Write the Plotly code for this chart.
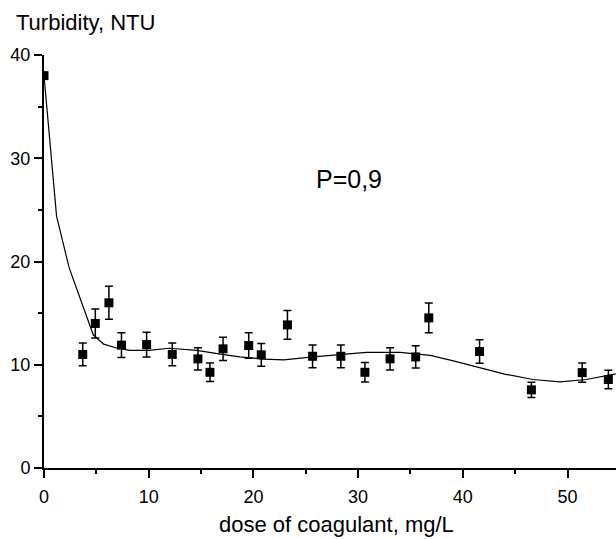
import plotly.graph_objects as go

# Measured turbidity (NTU) vs. coagulant dose (mg/L), with error bars
dose = [0.0, 3.7, 4.9, 6.2, 7.4, 9.8, 12.25, 14.7, 15.85, 17.1, 19.55, 20.75,
        23.25, 25.65, 28.35, 30.65, 33.05, 35.5, 36.75, 41.6, 46.55, 51.4, 53.9]
turbidity = [38.0, 11.0, 14.0, 16.0, 11.9, 11.95, 11.0, 10.57, 9.27, 11.54, 11.86, 10.96,
             13.86, 10.82, 10.82, 9.27, 10.57, 10.76, 14.54, 11.28, 7.57, 9.24, 8.57]
error = [0.3, 1.1, 1.4, 1.6, 1.2, 1.2, 1.1, 1.07, 0.9, 1.13, 1.24, 1.11,
         1.4, 1.1, 1.1, 0.94, 1.07, 1.07, 1.45, 1.13, 0.74, 0.94, 0.89]

# Fitted curve
fit_dose = [0.0, 1.2, 2.4, 4.7, 5.7, 7.0, 8.2, 10.0, 12.0, 14.6, 17.0, 18.7, 21.0,
            22.9, 25.7, 28.3, 30.8, 34.0, 36.9, 39.0, 41.6, 44.0, 46.7, 49.3, 51.8, 54.6]
fit_turbidity = [38.0, 24.4, 19.4, 12.9, 12.0, 11.6, 11.4, 11.4, 11.6, 11.4, 11.0, 10.76, 10.55,
                 10.47, 10.76, 10.99, 11.2, 11.2, 10.9, 10.4, 9.7, 9.1, 8.57, 8.34, 8.57, 9.12]

x_ticks = [0, 10, 20, 30, 40, 50]
y_ticks = [0, 10, 20, 30, 40]

FONT = "Liberation Sans, Arial, sans-serif"

fig = go.Figure()
fig.add_trace(go.Scatter(
    x=fit_dose, y=fit_turbidity, mode="lines",
    line=dict(color="black", width=1.2), hoverinfo="skip", showlegend=False,
))
fig.add_trace(go.Scatter(
    x=dose, y=turbidity, mode="markers",
    marker=dict(symbol="square", size=9, color="black"),
    error_y=dict(type="data", array=error, visible=True, color="black",
                 thickness=1.5, width=4),
    showlegend=False,
))

axis_common = dict(
    showline=True, linecolor="black", linewidth=2,
    ticks="outside", ticklen=8, tickwidth=1.5, tickcolor="black",
    showgrid=False, zeroline=False,
    tickfont=dict(family=FONT, size=18, color="black"),
)
minor_ticks = dict(dtick=5, ticks="outside", ticklen=4, tickwidth=1.5,
                   tickcolor="black", showgrid=False)

fig.update_xaxes(range=[0, 54.63], tickvals=x_ticks, minor=minor_ticks,
                 ticklabelstandoff=3, **axis_common)
fig.update_yaxes(range=[0, 40], tickvals=y_ticks, minor=minor_ticks,
                 **axis_common)

fig.update_layout(
    width=616, height=539,
    margin=dict(l=44, r=0, t=55, b=70.5, pad=0),
    paper_bgcolor="white", plot_bgcolor="white",
    font=dict(family=FONT, color="black"),
    annotations=[
        dict(text="Turbidity, NTU", xref="paper", yref="paper",
             x=-0.0524, y=1.078, xanchor="left", yanchor="middle",
             showarrow=False, font=dict(size=22)),
        dict(text="dose of coagulant, mg/L", xref="paper", yref="paper",
             x=0.5105, y=-0.138, xanchor="center", yanchor="middle",
             showarrow=False, font=dict(size=22)),
        dict(text="P=0,9", xref="x", yref="y", x=29.1, y=28.0,
             xanchor="center", yanchor="middle",
             showarrow=False, font=dict(size=25)),
    ],
)

fig.write_html("out.html")
